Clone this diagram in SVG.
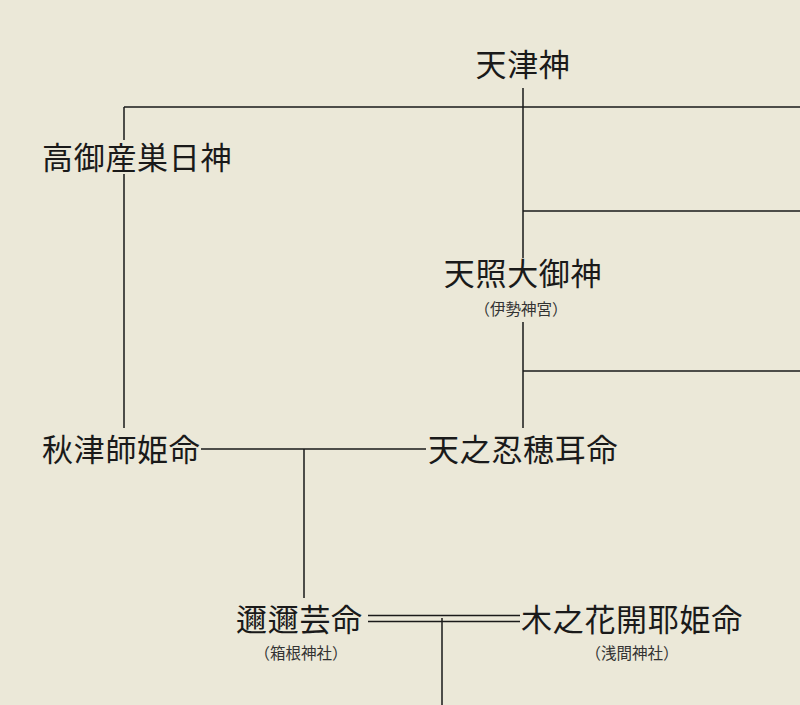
<svg xmlns="http://www.w3.org/2000/svg" width="800" height="705" viewBox="0 0 800 705">
<style>
.n{font-family:"Noto Sans CJK JP",sans-serif;font-size:31px;letter-spacing:0.7px;fill:#1a1a1a;dominant-baseline:central}
.s{font-family:"Noto Sans CJK JP",sans-serif;font-size:15.5px;fill:#333;text-anchor:middle;dominant-baseline:central}
.l{stroke:#1a1a1a;stroke-width:1.5;fill:none}
</style>
<rect width="800" height="705" fill="#ebe8d8"/>
<g id="connectors" class="l">
<path d="M523 88V258M523 322V428"/>
<path d="M124 107H800M124 107V140M124 174V428"/>
<path d="M523 211H800M523 371H800"/>
<path d="M201 449H426M304 449V598"/>
<path d="M368 615.5H520M368 621.5H520M442 618V705"/>
</g>
<g id="n1"><text class="n" x="523" y="62" text-anchor="middle">天津神</text></g>
<g id="n2"><text class="n" x="42" y="155">高御産巣日神</text></g>
<g id="n3"><text class="n" x="523" y="271" text-anchor="middle">天照大御神</text><text class="s" x="521" y="308">（伊勢神宮）</text></g>
<g id="n4"><text class="n" x="42" y="447">秋津師姫命</text></g>
<g id="n5"><text class="n" x="428" y="447">天之忍穂耳命</text></g>
<g id="n6"><text class="n" x="236" y="617">邇邇芸命</text><text class="s" x="301" y="652">（箱根神社）</text></g>
<g id="n7"><text class="n" x="521" y="617">木之花開耶姫命</text><text class="s" x="632" y="652">（浅間神社）</text></g>
</svg>
